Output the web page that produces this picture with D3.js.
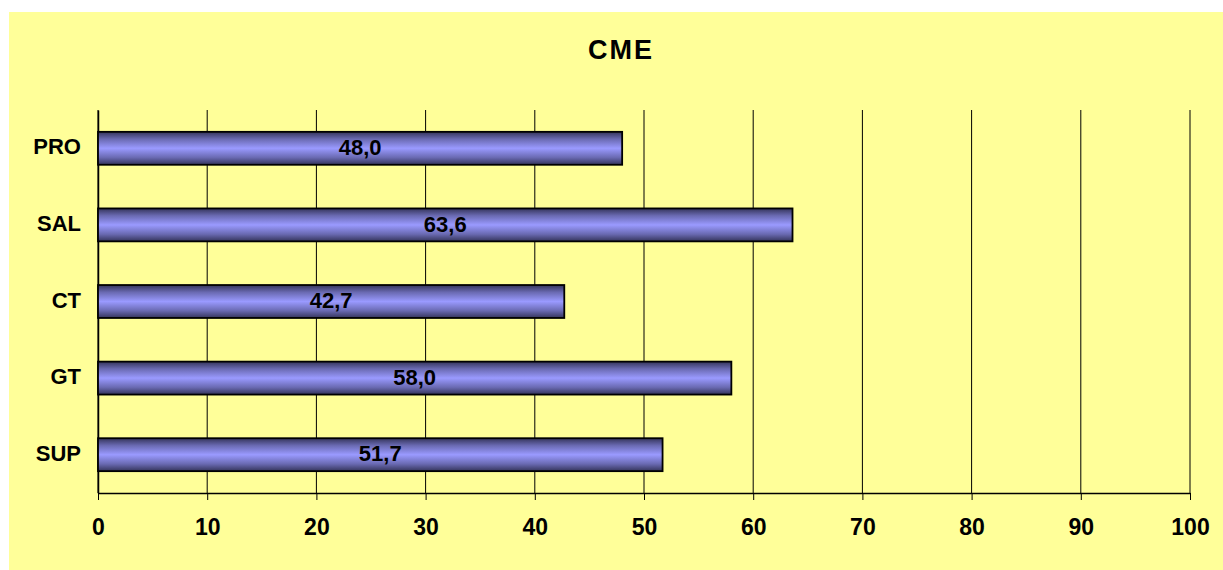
<!DOCTYPE html>
<html>
<head>
<meta charset="utf-8">
<script src="https://cdn.jsdelivr.net/npm/d3@7"></script>
<style>
  body { margin: 0; background: #ffffff; }
  svg { display: block; font-family: Arial, "Liberation Sans", sans-serif; }
</style>
</head>
<body>
<div id="chart"></div>
<script>
// Data
const categories = ["PRO", "SAL", "CT", "GT", "SUP"];
const values = [48.0, 63.6, 42.7, 58.0, 51.7];
const tickValues = [0, 10, 20, 30, 40, 50, 60, 70, 80, 90, 100];
const chartTitle = "CME";

const drawBars = () => {
  const width = 1223;
  const height = 570;
  const margin = {top: 110, right: 33, bottom: 77, left: 98};
  const innerWidth = width - margin.left - margin.right;
  const innerHeight = height - margin.top - margin.bottom;
  const fontFamily = "Arial, 'Liberation Sans', sans-serif";

  const svg = d3.select("#chart")
    .append("svg")
      .attr("width", width)
      .attr("height", height);

  // Gradient for the bars: dark at the edges, light in the middle
  const grad = svg.append("defs")
    .append("linearGradient")
      .attr("id", "barGrad")
      .attr("x1", 0).attr("y1", 0)
      .attr("x2", 0).attr("y2", 1);
  grad.append("stop").attr("offset", "0%").attr("stop-color", "#34345a");
  grad.append("stop").attr("offset", "22%").attr("stop-color", "#6a6ab2");
  grad.append("stop").attr("offset", "50%").attr("stop-color", "#9a9aff");
  grad.append("stop").attr("offset", "78%").attr("stop-color", "#6a6ab2");
  grad.append("stop").attr("offset", "100%").attr("stop-color", "#34345a");

  // Yellow panel
  svg.append("rect")
    .attr("x", 9)
    .attr("y", 12)
    .attr("width", width - 9)
    .attr("height", height - 12)
    .attr("fill", "#ffff99");

  // Title
  svg.append("text")
    .text(chartTitle)
    .attr("x", 621)
    .attr("y", 59)
    .attr("text-anchor", "middle")
    .attr("font-size", 27)
    .attr("font-weight", "bold")
    .attr("letter-spacing", 2);

  const innerChart = svg.append("g")
    .attr("transform", `translate(${margin.left}, ${margin.top})`);

  // Scales
  const xScale = d3.scaleLinear()
    .domain([0, 100])
    .range([0, innerWidth]);

  const yScale = d3.scaleBand()
    .domain(categories)
    .range([0, innerHeight])
    .paddingInner(0.57)
    .paddingOuter(0.285);

  // Vertical gridlines
  innerChart.append("g")
    .selectAll("line")
    .data(tickValues)
    .join("line")
      .attr("x1", d => xScale(d))
      .attr("x2", d => xScale(d))
      .attr("y1", 0)
      .attr("y2", innerHeight)
      .attr("stroke", "#000")
      .attr("stroke-width", 1);

  // Bottom axis
  const bottomAxis = d3.axisBottom(xScale)
    .tickValues(tickValues)
    .tickSize(7)
    .tickSizeOuter(0)
    .tickPadding(19);
  const xAxis = innerChart.append("g")
    .attr("transform", `translate(0, ${innerHeight})`)
    .call(bottomAxis);
  xAxis.select(".domain").attr("stroke", "#000").attr("stroke-width", 1.5);
  xAxis.selectAll(".tick line").attr("stroke", "#000");
  xAxis.selectAll(".tick text")
    .attr("font-size", 23)
    .attr("font-weight", "bold")
    .attr("font-family", fontFamily)
    .attr("fill", "#000");

  // Left axis (labels only)
  const leftAxis = d3.axisLeft(yScale)
    .tickSize(0)
    .tickPadding(17);
  const yAxis = innerChart.append("g").call(leftAxis);
  yAxis.select(".domain").attr("stroke", "#000").attr("stroke-width", 1.5);
  yAxis.selectAll(".tick text")
    .attr("font-size", 22)
    .attr("font-weight", "bold")
    .attr("font-family", fontFamily)
    .attr("fill", "#000")
    .attr("dy", "0.28em");

  // Bars
  const data = categories.map((c, i) => ({category: c, value: values[i]}));
  innerChart.selectAll(".bar")
    .data(data)
    .join("rect")
      .attr("class", "bar")
      .attr("x", xScale(0))
      .attr("y", d => yScale(d.category))
      .attr("width", d => xScale(d.value) - xScale(0))
      .attr("height", yScale.bandwidth())
      .attr("fill", "url(#barGrad)")
      .attr("stroke", "#000")
      .attr("stroke-width", 1.8);

  // Value labels
  const fmt = d => d.toFixed(1).replace(".", ",");
  innerChart.selectAll(".label")
    .data(data)
    .join("text")
      .attr("class", "label")
      .text(d => fmt(d.value))
      .attr("x", d => xScale(d.value / 2))
      .attr("y", d => yScale(d.category) + yScale.bandwidth() / 2)
      .attr("dy", "0.3em")
      .attr("text-anchor", "middle")
      .attr("font-size", 22)
      .attr("font-weight", "bold");
};

drawBars();
</script>
</body>
</html>
